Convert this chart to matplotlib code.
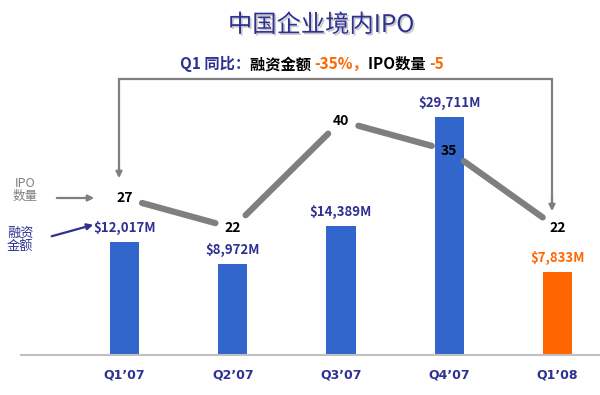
import matplotlib
matplotlib.use("Agg")
import matplotlib.pyplot as plt
import matplotlib.patheffects as pe
import numpy as np

plt.rcParams["font.family"] = ["Noto Sans CJK SC", "DejaVu Sans"]

quarters = ["Q1’07", "Q2’07", "Q3’07", "Q4’07", "Q1’08"]
amounts = [12017, 8972, 14389, 29711, 7833]   # 融资金额, $M
counts = [27, 22, 40, 35, 22]                 # IPO数量

NAVY = "#2E3192"
BLUE = "#3366CC"
ORANGE = "#FF6600"
GRAY = "#7F7F7F"

fig = plt.figure(figsize=(6, 3.95), dpi=100)
ax = fig.add_axes([21 / 600, 40 / 395, 579 / 600, 275 / 395])

x = np.arange(len(quarters))
floor = -3900
colors = [BLUE] * (len(quarters) - 1) + [ORANGE]
ax.bar(x, np.array(amounts) - floor, bottom=floor, width=0.27, color=colors, zorder=2)
ax.set_ylim(floor, 34950)
ax.set_xlim(-0.9575, 4.394)

for i, v in enumerate(amounts):
    ax.annotate(f"${v:,}M", (i, v), xytext=(0, 5), textcoords="offset points",
                ha="center", va="bottom", fontsize=9.5, fontweight="bold",
                color=colors[i] if i == len(amounts) - 1 else NAVY)

ax.set_xticks(x)
ax.set_xticklabels(quarters, fontsize=9, fontweight="bold", color=NAVY,
                   family=["DejaVu Sans"])
ax.tick_params(axis="x", length=0, pad=10)
ax.set_yticks([])
for s in ["top", "left", "right"]:
    ax.spines[s].set_visible(False)
ax.spines["bottom"].set_color("#C0C0C0")
ax.spines["bottom"].set_linewidth(1.5)

# IPO count line on its own scale
ax2 = ax.twinx()
ax2.set_ylim(0.6, 46.9)
ax2.axis("off")
for i, c in enumerate(counts):
    ax2.text(i, c, str(c), ha="center", va="center", fontsize=10,
             fontweight="bold", color="black", zorder=4)
for i in range(len(counts) - 1):
    ax2.annotate("", xy=(i + 1, counts[i + 1]), xytext=(i, counts[i]),
                 arrowprops=dict(arrowstyle="-", lw=4.5, color=GRAY,
                                 shrinkA=13, shrinkB=13))

# overlay in pixel coordinates for titles and callouts
over = fig.add_axes([0, 0, 1, 1])
over.set_xlim(0, 600)
over.set_ylim(395, 0)
over.axis("off")

over.text(321, 25, "中国企业境内IPO", ha="center", va="center", fontsize=17.5,
          color=NAVY,
          path_effects=[pe.withSimplePatchShadow(offset=(1.2, -1.2), shadow_rgbFace="#BBBBBB", alpha=0.8)])

pieces = [("Q1 同比：", NAVY), ("融资金额 ", "black"), ("-35%，", ORANGE),
          ("IPO数量 ", "black"), ("-5", ORANGE)]
t = over.text(180, 64, pieces[0][0], ha="left", va="center", fontsize=11,
              fontweight="bold", color=pieces[0][1])
for txt, col in pieces[1:]:
    t = over.annotate(txt, xy=(1, 0), xycoords=t, ha="left", va="bottom",
                      fontsize=11, fontweight="bold", color=col)

# bracket from Q1'07 to Q1'08
over.plot([119, 119, 552, 552], [170, 79, 79, 200], color=GRAY, lw=1.6,
          solid_joinstyle="miter")
over.annotate("", xy=(119, 181), xytext=(119, 165),
              arrowprops=dict(arrowstyle="-|>", color=GRAY, lw=1.6, mutation_scale=9))
over.annotate("", xy=(552, 214), xytext=(552, 195),
              arrowprops=dict(arrowstyle="-|>", color=GRAY, lw=1.6, mutation_scale=9))

# legend-like callouts on the left
over.text(25, 190, "IPO\n数量", ha="center", va="center", fontsize=9,
          color=GRAY, linespacing=1.0)
over.annotate("", xy=(97, 198), xytext=(54, 198),
              arrowprops=dict(arrowstyle="-|>", color=GRAY, lw=1.6, mutation_scale=9))
over.text(20, 240, "融资\n金额", ha="center", va="center", fontsize=9.5,
          color=NAVY, linespacing=1.0)
over.annotate("", xy=(96, 224), xytext=(49, 237),
              arrowprops=dict(arrowstyle="-|>", color=NAVY, lw=1.6, mutation_scale=9))

fig.savefig("out.png", dpi=100)
